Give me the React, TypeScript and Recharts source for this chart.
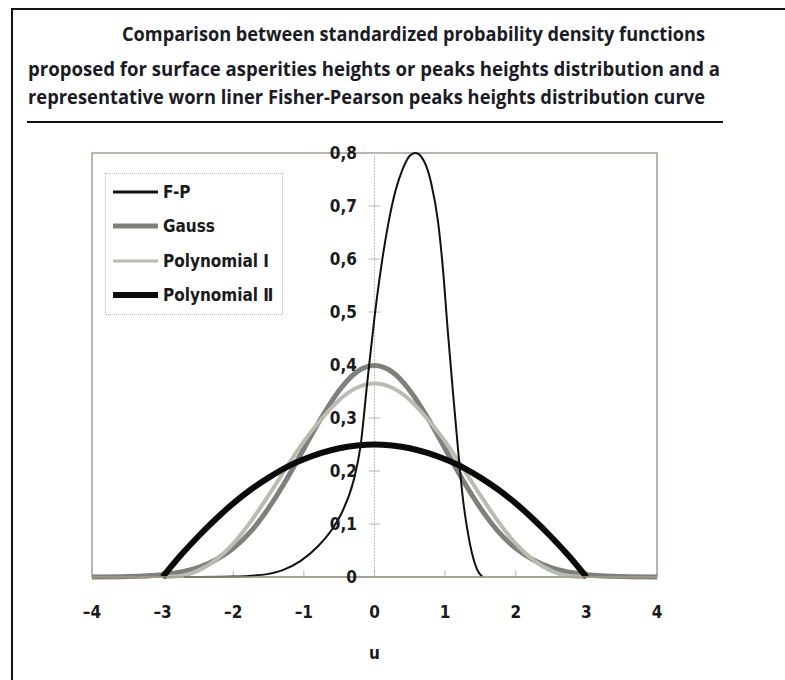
import React from "react";
import { LineChart, Line, XAxis, YAxis, ReferenceLine, ReferenceArea } from "recharts";

// u values and densities read for each curve
const fpU = [-2.7, -2.0, -1.6, -1.3, -1.05, -0.8, -0.6, -0.45, -0.3, -0.2, -0.1, 0, 0.1, 0.2, 0.3, 0.4, 0.5, 0.58, 0.7, 0.8, 0.9, 0.97, 1.04, 1.11, 1.18, 1.25, 1.32, 1.38, 1.45, 1.53];
const fpDensity = [0, 0.001, 0.004, 0.013, 0.03, 0.058, 0.09, 0.125, 0.18, 0.245, 0.37, 0.49, 0.59, 0.67, 0.73, 0.77, 0.795, 0.8, 0.785, 0.745, 0.67, 0.58, 0.46, 0.35, 0.245, 0.15, 0.085, 0.045, 0.015, 0];

const gaussU = [-4, -3.5, -3, -2.5, -2.25, -2, -1.75, -1.5, -1.25, -1, -0.75, -0.5, -0.25, 0, 0.25, 0.5, 0.75, 1, 1.25, 1.5, 1.75, 2, 2.25, 2.5, 3, 3.5, 4];
const gaussDensity = [0.0001, 0.0009, 0.0044, 0.0175, 0.032, 0.054, 0.086, 0.13, 0.183, 0.242, 0.301, 0.352, 0.387, 0.399, 0.387, 0.352, 0.301, 0.242, 0.183, 0.13, 0.086, 0.054, 0.032, 0.0175, 0.0044, 0.0009, 0.0001];

const polyU = [-3, -2.75, -2.5, -2.25, -2, -1.75, -1.5, -1.25, -1, -0.75, -0.5, -0.25, 0, 0.25, 0.5, 0.75, 1, 1.25, 1.5, 1.75, 2, 2.25, 2.5, 2.75, 3];
const poly1Density = [0, 0.002, 0.012, 0.032, 0.063, 0.105, 0.154, 0.206, 0.256, 0.298, 0.334, 0.357, 0.365, 0.357, 0.334, 0.298, 0.256, 0.206, 0.154, 0.105, 0.063, 0.032, 0.012, 0.002, 0];
const poly2Density = [0, 0.04, 0.076, 0.109, 0.139, 0.165, 0.1875, 0.207, 0.222, 0.234, 0.243, 0.248, 0.25, 0.248, 0.243, 0.234, 0.222, 0.207, 0.1875, 0.165, 0.139, 0.109, 0.076, 0.04, 0];

const xTicks = [-4, -3, -2, -1, 0, 1, 2, 3, 4];
const yTicks = [0, 0.1, 0.2, 0.3, 0.4, 0.5, 0.6, 0.7, 0.8];

const titleLines = [
  "Comparison between standardized probability density functions",
  "proposed for surface asperities heights or peaks heights distribution and a",
  "representative worn liner Fisher-Pearson peaks heights distribution curve",
];

const toPoints = (us: number[], vs: number[]) => us.map((u, i) => ({ u, v: vs[i] }));

const series = [
  { name: "F-P", data: toPoints(fpU, fpDensity), color: "#111111", width: 2, legendWidth: 3 },
  { name: "Gauss", data: toPoints(gaussU, gaussDensity), color: "#7f7f7d", width: 5, legendWidth: 5 },
  { name: "Polynomial Ⅰ", data: toPoints(polyU, poly1Density), color: "#b9bcb2", width: 4, legendWidth: 3 },
  { name: "Polynomial Ⅱ", data: toPoints(polyU, poly2Density), color: "#0a0a0a", width: 6, legendWidth: 6 },
];

// drawing order: curves first, thin F-P on top
const drawOrder = [1, 2, 3, 0];

const narrow = "'Liberation Sans Narrow', 'Arial Narrow', 'DejaVu Sans Condensed', sans-serif";
const frameColor = "#a29d8c";

const fmtX = (v: number) => (v < 0 ? "\u2013" + Math.abs(v) : String(v));
const fmtY = (v: number) => (v === 0 ? "0" : v.toFixed(1).replace(".", ","));

function Title() {
  const rows = [
    { x: 114, y: 33, len: 583 },
    { x: 20, y: 68, len: 692 },
    { x: 20, y: 96, len: 677 },
  ];
  return (
    <svg width={777} height={125} style={{ position: "absolute", left: 0, top: 0 }}>
      {titleLines.map((t, i) => (
        <text
          key={i}
          x={rows[i].x}
          y={rows[i].y}
          textLength={rows[i].len}
          lengthAdjust="spacingAndGlyphs"
          fontFamily="'Open Sans', sans-serif"
          fontWeight={700}
          fontSize={19}
          fill="#1b1b26"
        >
          {t}
        </text>
      ))}
      <line x1={19} x2={715} y1={114} y2={114} stroke="#111" strokeWidth={2} />
    </svg>
  );
}

function LegendBox() {
  const rowY = [18, 52, 87, 121];
  return (
    <div
      style={{
        position: "absolute",
        left: 97,
        top: 165,
        width: 178,
        height: 142,
        border: "1px dotted #b8b8b8",
        background: "#fff",
        boxSizing: "border-box",
      }}
    >
      <svg width={176} height={140}>
        {series.map((s, i) => (
          <g key={s.name}>
            <line x1={7} x2={52} y1={rowY[i]} y2={rowY[i]} stroke={s.color} strokeWidth={s.legendWidth} />
            <text x={57} y={rowY[i]} dy="0.35em" fontFamily={narrow} fontWeight="bold" fontSize={17} fill="#1a1a1a">
              {s.name}
            </text>
          </g>
        ))}
      </svg>
    </div>
  );
}

export default function App() {
  return (
    <div style={{ position: "fixed", left: 0, top: 0, width: 785, height: 680, overflow: "hidden", background: "#fff" }}>
      {/* page frame: only its left and top edges fall inside the view */}
      <div
        style={{
          position: "absolute",
          left: 11,
          top: 8,
          width: 774,
          height: 672,
          borderLeft: "2px solid #151515",
          borderTop: "2px solid #151515",
          boxSizing: "border-box",
        }}
      />
      <div style={{ position: "absolute", left: 8, top: 8, width: 777, height: 672 }}>
        <Title />
        <div style={{ position: "absolute", left: 0, top: 130 }}>
          <LineChart width={700} height={540} margin={{ top: 15, right: 51, left: 84, bottom: 11 }}>
            <XAxis
              type="number"
              dataKey="u"
              domain={[-4, 4]}
              ticks={xTicks}
              tickFormatter={fmtX}
              axisLine={{ stroke: frameColor, strokeWidth: 1.5 }}
              tickLine={false}
              tickSize={0}
              tickMargin={29}
              height={90}
              tick={{ fontSize: 17, fontWeight: "bold", fontFamily: narrow, fill: "#1a1a1a" }}
              label={{ value: "u", position: "insideBottom", offset: 8, fontSize: 17, fontWeight: "bold", fontFamily: narrow, fill: "#1a1a1a" }}
            />
            <YAxis type="number" domain={[0, 0.8]} hide />
            <ReferenceArea x1={-4} x2={4} y1={0} y2={0.8} fill="none" stroke={frameColor} strokeWidth={1.5} />
            <ReferenceLine x={0} stroke="#c2c2c2" strokeWidth={1} strokeDasharray="2 1" />
            {xTicks.slice(1, -1).map((v) => (
              <ReferenceLine
                key={"xt" + v}
                segment={[{ x: v, y: 0 }, { x: v, y: 0.012 }]}
                stroke="#b5b5b5"
              />
            ))}
            {yTicks.map((v) => (
              <ReferenceLine
                key={"yt" + v}
                segment={[{ x: -0.08, y: v }, { x: 0.08, y: v }]}
                stroke="#b5b5b5"
                label={{ value: fmtY(v), position: "left", offset: 12, fontSize: 17, fontWeight: "bold", fontFamily: narrow, fill: "#1a1a1a" }}
              />
            ))}
            {drawOrder.map((i) => {
              const s = series[i];
              return (
                <Line
                  key={s.name}
                  data={s.data}
                  dataKey="v"
                  name={s.name}
                  type="monotone"
                  stroke={s.color}
                  strokeWidth={s.width}
                  dot={false}
                  activeDot={false}
                  isAnimationActive={false}
                />
              );
            })}
          </LineChart>
        </div>
        <LegendBox />
      </div>
    </div>
  );
}
